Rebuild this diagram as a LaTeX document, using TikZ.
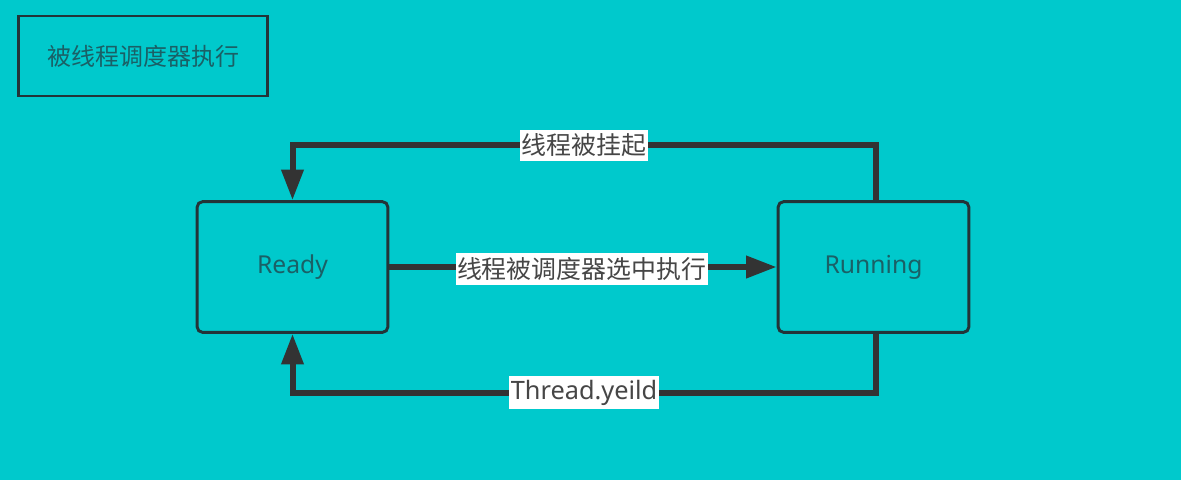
\documentclass[tikz,border=0pt]{standalone}
\usepackage{fontspec}
\setmainfont{Noto Sans}
\newfontfamily\cjk{Noto Sans CJK SC}
\usetikzlibrary{arrows.meta, positioning, calc}

\definecolor{bgcyan}{RGB}{0,201,204}
\definecolor{edgedark}{RGB}{35,52,56}
\definecolor{statetext}{RGB}{26,96,102}
\definecolor{labeltext}{RGB}{70,70,70}

\begin{document}
\begin{tikzpicture}[
    x=0.75pt, y=-0.75pt,
    titlebox/.style={draw=edgedark, line width=2.2pt, rectangle, minimum width=187pt, minimum height=60pt, font=\cjk\fontsize{18}{20}\selectfont, text=statetext},
    statebox/.style={draw=edgedark, line width=2.2pt, rectangle, rounded corners=4pt, minimum width=143pt, minimum height=98pt, font=\fontsize{18.5}{20}\selectfont, text=statetext},
    flow_arr/.style={-{Triangle[length=23pt, width=16pt]}, line width=4.5pt, draw=black!80},
    flowlabel/.style={fill=white, inner xsep=1pt, inner ysep=3pt, text=labeltext, font=\cjk\fontsize{18.7}{20}\selectfont}
]
    \useasboundingbox[fill=bgcyan] (0,0) rectangle (1181,480);

    \node[titlebox] (sched) at (143,56) {被线程调度器执行};

    \node[statebox] (ready) at (292.5,267) {\raisebox{-2pt}{Ready}};
    \node[statebox] (running) at (873.5,267) {\raisebox{-2pt}{Running}};

    % suspended: back to ready over the top
    \coordinate (top_r) at ($(running.north) + (2,-55)$);
    \coordinate (top_l) at ($(ready.north) + (0,-55)$);
    \draw[flow_arr] ($(running.north)+(2,0)$) -- (top_r) -- (top_l) -- (ready.north);
    \node[flowlabel] (lbl_hang) at ($(top_l)!0.5!(top_r)$) {线程被挂起};

    % picked by scheduler
    \draw[flow_arr] (ready.east) -- (running.west)
      node[flowlabel, midway, xshift=-1pt, yshift=-1.5pt] (lbl_pick) {线程被调度器选中执行};

    % yield: back to ready under the bottom
    \coordinate (bot_r) at ($(running.south) + (2,59)$);
    \coordinate (bot_l) at ($(ready.south) + (0,59)$);
    \draw[flow_arr] ($(running.south)+(2,0)$) -- (bot_r) -- (bot_l) -- (ready.south);
    \node[flowlabel, font=\fontsize{19}{20}\selectfont] (lbl_yield) at ($(bot_l)!0.5!(bot_r)$) {Thread.yeild};
\end{tikzpicture}
\end{document}
